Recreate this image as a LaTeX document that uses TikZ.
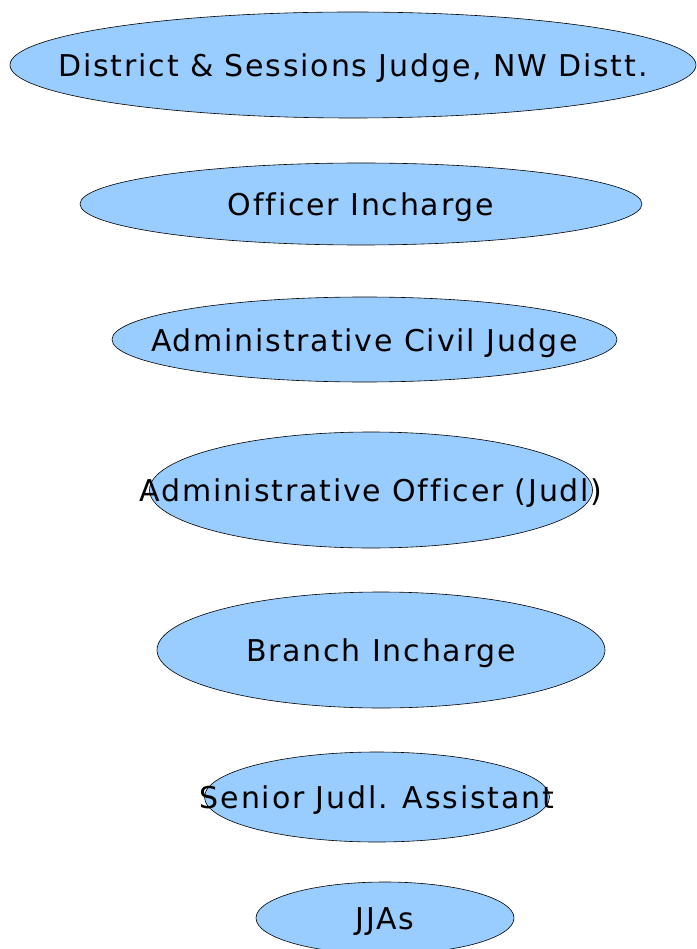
\documentclass[tikz,border=0pt]{standalone}
\usepackage{fontspec}
\setmainfont[LetterSpace=6, Ligatures=NoCommon]{DejaVu Sans}
\usetikzlibrary{shapes.geometric}
\definecolor{skyfill}{HTML}{99CCFF}

\begin{document}
\begin{tikzpicture}[
      x=1pt, y=-1pt,
      oval/.style={ellipse, draw, fill=skyfill, line width=0.6pt, inner sep=0pt},
      caption/.style={inner sep=0pt, anchor=base, yshift=-11.5pt, font=\fontsize{30}{36}\selectfont}
    ]
    \useasboundingbox (0,0) rectangle (696,949);

    % Ovals
    \node[oval, minimum width=686, minimum height=106] (dsj) at (353,65) {};
    \node[oval, minimum width=562, minimum height=82] (oic) at (361,204) {};
    \node[oval, minimum width=505, minimum height=85] (acj) at (364.5,339.5) {};
    \node[oval, minimum width=443, minimum height=116] (aoj) at (371,490) {};
    \node[oval, minimum width=448, minimum height=116] (bic) at (381,650) {};
    \node[oval, minimum width=345, minimum height=90] (sja) at (377,797) {};
    \node[oval, minimum width=258, minimum height=72] (jja) at (385,918) {};

    % Labels
    \node[caption] (dsjtext) at (dsj.center) {District \& Sessions Judge, NW Distt.};
    \node[caption] (oictext) at (oic.center) {Officer Incharge};
    \node[caption] (acjtext) at (acj.center) {Administrative Civil Judge};
    \node[caption] (aojtext) at (aoj.center) {Administrative Officer (Judl)};
    \node[caption] (bictext) at (bic.center) {Branch Incharge};
    \node[caption] (sjatext) at (sja.center) {Senior Judl. Assistant};
    \node[caption] (jjatext) at (jja.center) {JJAs};
  \end{tikzpicture}
\end{document}
